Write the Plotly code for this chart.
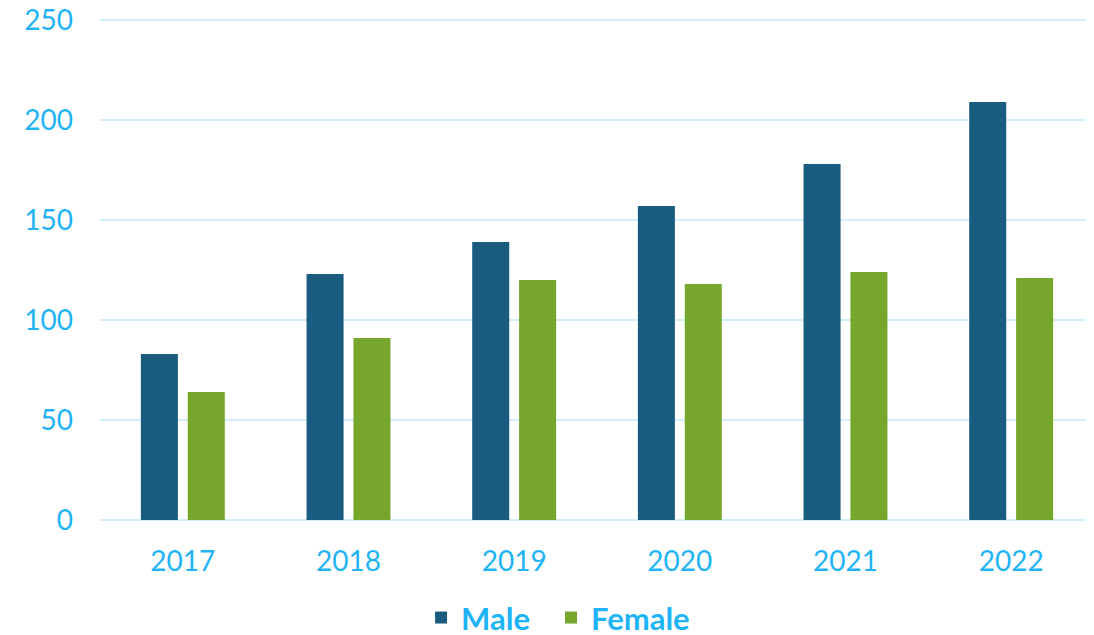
import plotly.graph_objects as go

years = ["2017", "2018", "2019", "2020", "2021", "2022"]
male = [83, 123, 139, 157, 178, 209]
female = [64, 91, 120, 118, 124, 121]
y_ticks = [0, 50, 100, 150, 200, 250]

text_color = "#1FB3F7"
fig = go.Figure()
fig.add_trace(go.Bar(x=years, y=male, name="Male", legend="legend",
                     marker=dict(color="#195C80", line=dict(width=0))))
fig.add_trace(go.Bar(x=years, y=female, name="Female", legend="legend2",
                     marker=dict(color="#76A72C", line=dict(width=0))))

legend_font = dict(size=31, color=text_color, family="Lato, sans-serif", weight="bold")
fig.update_layout(
    width=1086, height=627,
    margin=dict(l=92, r=0, t=10, b=115, autoexpand=False),
    plot_bgcolor="white", paper_bgcolor="white",
    barmode="group", bargap=0.434, bargroupgap=0.21,
    font=dict(family="Lato, Open Sans, sans-serif", color=text_color, size=28),
    legend=dict(orientation="h", x=0.323, xanchor="left", y=-0.195, yanchor="middle",
                font=legend_font, itemsizing="constant"),
    legend2=dict(orientation="h", x=0.4537, xanchor="left", y=-0.195, yanchor="middle",
                 font=legend_font, itemsizing="constant"),
    showlegend=True,
)
fig.update_yaxes(range=[0, 251], tickvals=y_ticks, showgrid=True, gridcolor="#D3EEFB", gridwidth=2,
                 zeroline=True, zerolinecolor="#D3EEFB", zerolinewidth=2, ticklabeloverflow="allow",
                 ticklabelstandoff=26, tickfont=dict(size=28, color=text_color), showline=False)
fig.update_xaxes(showgrid=False, showline=False, ticklabelstandoff=22,
                 tickfont=dict(size=28, color=text_color))

fig.write_html("out.html")
